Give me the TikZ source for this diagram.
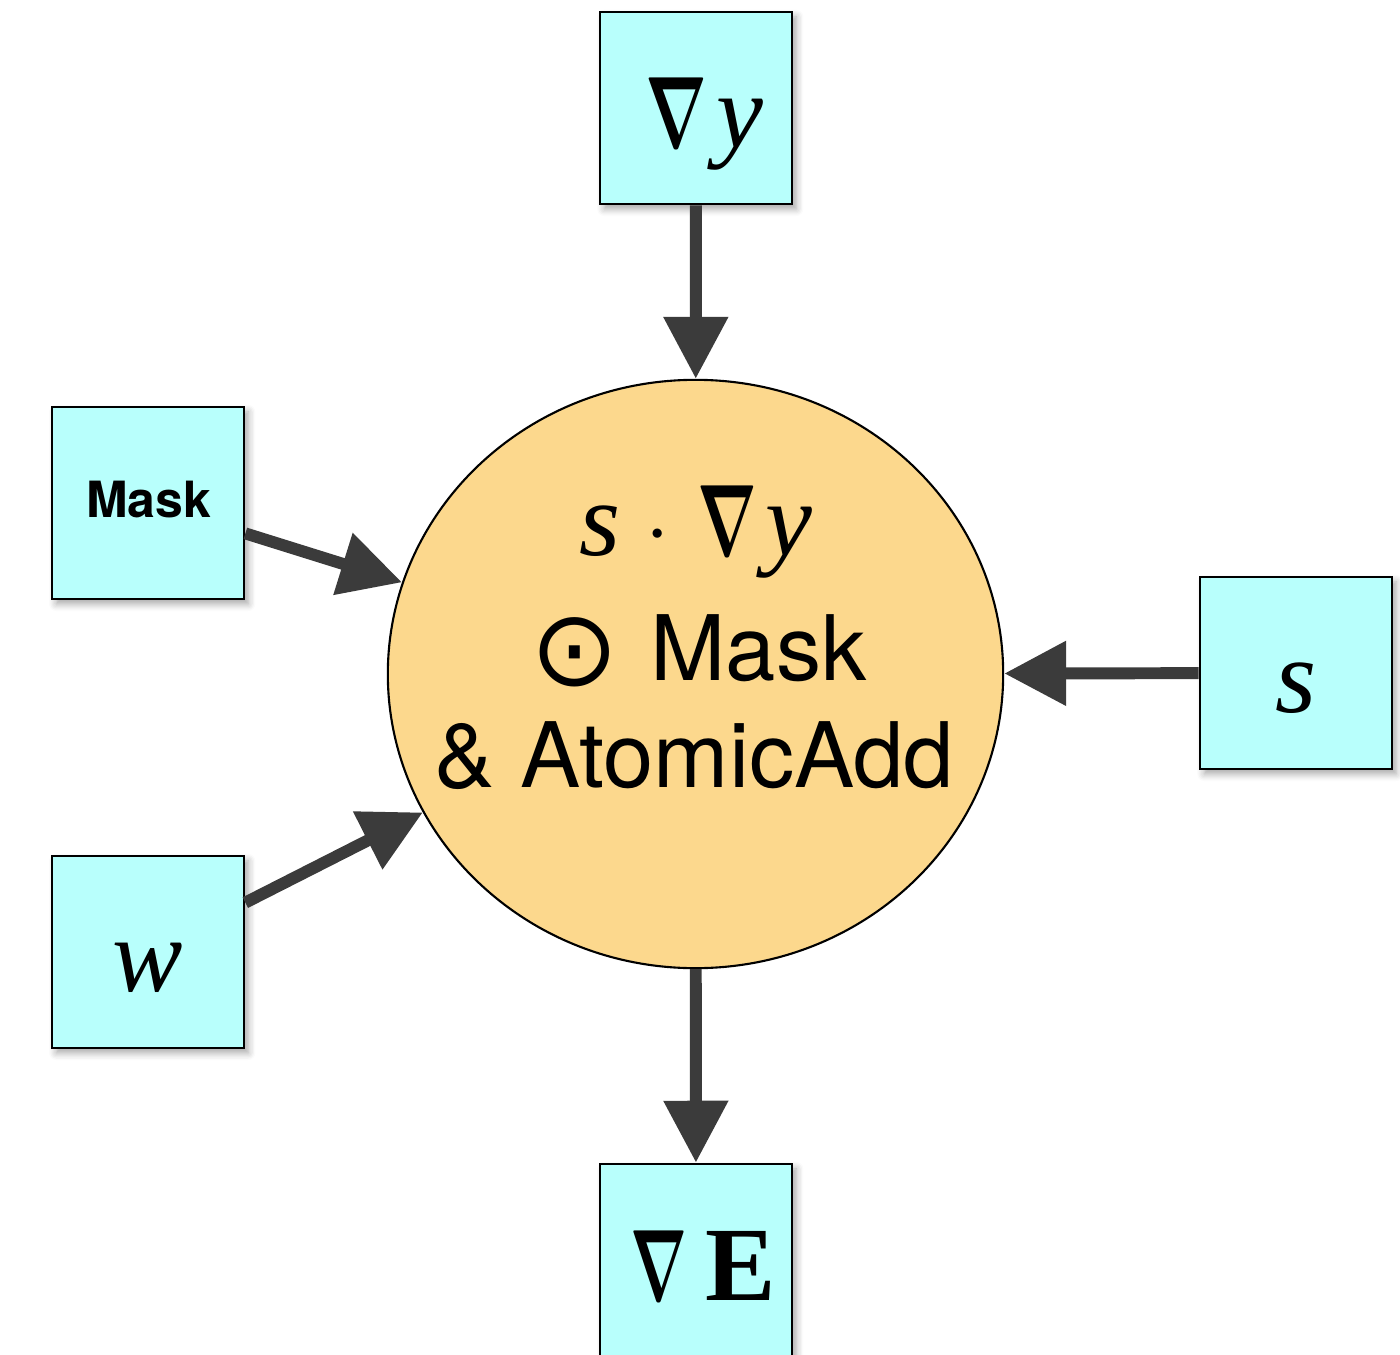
\documentclass[tikz,border=0pt]{standalone}
\usepackage{fontspec}
\usepackage{graphicx}
\usetikzlibrary{arrows.meta,shapes.geometric,shadows.blur}
\newfontfamily\helv{TeX Gyre Heros}
\newfontfamily\tms{Liberation Serif}
\newfontfamily\djv{DejaVu Sans}
\definecolor{boxfill}{HTML}{B8FFFC}
\definecolor{circfill}{HTML}{FCD88D}
\definecolor{arrgray}{HTML}{3B3B3B}
\newcommand{\nab}[1]{\resizebox{#1}{19.8pt}{\boldmath$\nabla$}}
\begin{document}
\begin{tikzpicture}[x=0.01cm,y=-0.01cm,
  inbox/.style={rectangle,draw=black,line width=0.75pt,fill=boxfill,minimum width=1.92cm,minimum height=1.92cm,inner sep=0pt,
    blur shadow={shadow xshift=1.2pt,shadow yshift=-1.4pt,shadow blur steps=6,shadow opacity=35,shadow blur radius=2pt}},
  opnode/.style={ellipse,draw=black,line width=0.6pt,fill=circfill,minimum width=6.15cm,minimum height=5.88cm,inner sep=0pt},
  arr/.style={draw=arrgray,line width=3.4pt,-{Triangle[width=17.6pt,length=17.6pt]}},
  mathtxt/.style={anchor=base,inner sep=0pt,font=\fontsize{30}{36}\selectfont},
  sanstxt/.style={anchor=base,inner sep=0pt,font=\helv\fontsize{25.7}{30}\selectfont},
]
\useasboundingbox (0,0) rectangle (1400,1355);
\begin{scope}
\clip (0,0) rectangle (1400,1355);
\node[inbox] (dy) at (696,108) {};
\node[inbox] (mask) at (148,503) {};
\node[inbox] (s) at (1296,673) {};
\node[inbox] (w) at (148,952) {};
\node[inbox] (dE) at (696,1260) {};
\end{scope}
\node[opnode] (op) at (695.5,674) {};

\node[mathtxt] (dyt) at (704.5,148) {\nab{17.6pt}\kern 2.6pt{\tms\itshape y}};
\node[anchor=base,inner sep=0pt,font=\helv\bfseries\fontsize{14.2}{17}\selectfont] (maskt) at (148.5,518) {Mask};
\node[mathtxt] (st) at (1296,712) {\tms\itshape s};
\node[mathtxt] (wt) at (148,991) {\tms\itshape w};
\node[mathtxt] (dEt) at (703,1300) {\nab{16.2pt}\kern 5.2pt{\tms\bfseries E}};

\node[mathtxt] (l1) at (696,555) {{\tms\itshape s}\kern 7.2pt$\cdot$\kern 7.7pt\nab{17pt}\kern 2.5pt{\tms\itshape y}};
\node[sanstxt] (l2) at (698.5,680) {\raisebox{-1.6pt}{\scalebox{1.17}{\djv ⊙}}\kern 9pt Mask};
\node[sanstxt] (l3) at (694.5,787) {\& AtomicAdd};

\draw[arr] (dy) -- (op);
\draw[arr] (mask) -- (op);
\draw[arr] (w) -- (op);
\draw[arr] (s) -- (op);
\draw[arr] (op) -- (dE);
\end{tikzpicture}
\end{document}
